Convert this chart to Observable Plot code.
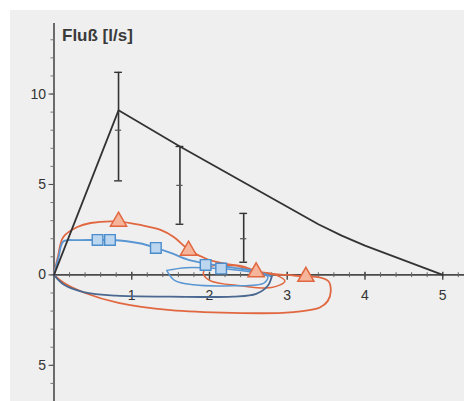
<!DOCTYPE html>
<html><head><meta charset="utf-8">
<script src="https://cdn.jsdelivr.net/npm/d3@7"></script>
<script src="https://cdn.jsdelivr.net/npm/@observablehq/plot@0.6"></script>
<style>
body{margin:0;background:#fff;font-family:"Liberation Sans",Arial,sans-serif;}
#wrap{position:relative;width:464px;height:401px;overflow:hidden;}
#bg{position:absolute;left:10px;top:10px;right:0;bottom:0;background:#efefef;}
#chart{position:absolute;left:0;top:0;}
</style></head>
<body><div id="wrap"><div id="bg"></div><div id="chart"></div></div>
<script>
const titleText = ["Fluß [l/s]"];
const yMajor = [10, 5, 0, -5];
const yMinor = d3.range(-7, 14, 1);
const xMajor = [1, 2, 3, 4, 5];
const xMinor = d3.range(0.2, 5.3, 0.2).map(v => +v.toFixed(1));

// predicted curve (black)
const predX = [0, 0.83, 1.62, 3.4, 3.7, 4.0, 5.0];
const predY = [0, 9.1, 7.1, 2.8, 2.17, 1.62, 0];
// error bars
const barX = [0.83, 1.62, 2.44];
const barLo = [5.2, 2.8, 0.7];
const barHi = [11.2, 7.1, 3.4];
const barMid = [8.0, 4.95, 2.0];

// red loop (measured 1)
const redX = [0,0.05,0.12,0.3,0.47,0.83,1.11,1.37,1.54,1.73,1.98,2.23,2.45,2.6,2.8,3.0,3.24,3.4,3.53,3.56,3.52,3.42,3.2,2.94,2.3,1.5,0.83,0.4,0.13,0];
const redY = [0,1.0,2.1,2.65,2.87,2.95,2.76,2.49,2.1,1.4,0.85,0.6,0.45,0.2,0.05,0.0,-0.1,-0.12,-0.35,-0.9,-1.45,-1.8,-2.0,-2.1,-2.1,-1.95,-1.55,-1.0,-0.45,0];
const red2X = [2.35,2.0,1.92,2.0,2.4,2.8,2.97,2.85,2.6,2.35];
const red2Y = [0.5,0.45,0.1,-0.3,-0.6,-0.7,-0.35,0.0,0.2,0.5];
const triX = [0.83, 1.73, 2.6, 3.24];
const triY = [2.95, 1.35, 0.15, -0.1];

// blue loop (measured 2)
const blueUpX = [0,0.06,0.12,0.3,0.56,0.75,1.1,1.31,1.5,1.73,2.0,2.3,2.6,2.8];
const blueUpY = [0,1.0,1.85,1.92,1.93,1.93,1.75,1.5,1.22,0.83,0.6,0.4,0.2,-0.1];
const blueLoX = [0,0.13,0.38,0.8,1.5,2.3,2.6,2.75,2.8];
const blueLoY = [0,-0.55,-0.95,-1.15,-1.2,-1.2,-1.05,-0.6,-0.1];
const blue2X = [1.45,1.55,1.8,2.3,2.7,2.75,2.55,2.1,1.7,1.45];
const blue2Y = [0.25,-0.3,-0.55,-0.6,-0.45,-0.1,0.15,0.35,0.4,0.25];
const sqX = [0.56, 0.72, 1.31, 1.95, 2.15];
const sqY = [1.93, 1.93, 1.49, 0.55, 0.35];

const zip = (xs, ys) => xs.map((x, i) => ({x, y: ys[i]}));
const bars = barX.map((x, i) => ({x, lo: barLo[i], hi: barHi[i], mid: barMid[i]}));
const redC = "#e0673f", blueC = "#5a96d2", axisC = "#4a4a4a";

const chart = Plot.plot({
  width: 464, height: 401,
  marginLeft: 53.5, marginRight: 0, marginTop: 23, marginBottom: 0,
  style: {background: "transparent", fontFamily: "Liberation Sans, Arial, sans-serif"},
  x: {domain: [0, 5.28], axis: null},
  y: {domain: [-7.0, 13.9], axis: null},
  marks: [
    Plot.ruleX([0], {stroke: axisC, strokeWidth: 1.6}),
    Plot.ruleY([0], {stroke: axisC, strokeWidth: 1.6}),
    Plot.axisY({ticks: yMinor, tickSize: 3, tickFormat: () => "", stroke: "#777"}),
    Plot.axisY({ticks: yMajor, tickSize: 5, tickPadding: 3, tickFormat: d => String(Math.abs(d)),
      fontSize: 14, fill: "#333", stroke: axisC}),
    Plot.ruleX(xMinor, {x: d => d, y1: 0.12, y2: -0.15, stroke: "#666", strokeWidth: 1}),
    Plot.ruleX(xMajor, {x: d => d, y1: 0.15, y2: -0.3, stroke: axisC, strokeWidth: 1.4}),
    Plot.text(xMajor, {x: d => d, y: 0, dy: 21, text: d => String(d), fontSize: 14, fill: "#333"}),
    Plot.text(titleText, {frameAnchor: "top-left", dx: 8, dy: 5, text: d => d, fontSize: 17,
      fontWeight: "bold", fill: "#3a3a3a", textAnchor: "start", lineAnchor: "top"}),
    Plot.line(zip(redX, redY), {x: "x", y: "y", stroke: redC, strokeWidth: 1.8, curve: "catmull-rom"}),
    Plot.line(zip(red2X, red2Y), {x: "x", y: "y", stroke: redC, strokeWidth: 1.5, curve: "catmull-rom"}),
    Plot.line(zip(blueUpX, blueUpY), {x: "x", y: "y", stroke: blueC, strokeWidth: 1.8, curve: "catmull-rom"}),
    Plot.line(zip(blueLoX, blueLoY), {x: "x", y: "y", stroke: "#4a6890", strokeWidth: 1.8, curve: "catmull-rom"}),
    Plot.line(zip(blue2X, blue2Y), {x: "x", y: "y", stroke: blueC, strokeWidth: 1.5, curve: "catmull-rom"}),
    Plot.line(zip(predX, predY), {x: "x", y: "y", stroke: "#333", strokeWidth: 1.8}),
    Plot.ruleX(bars, {x: "x", y1: "lo", y2: "hi", stroke: "#333", strokeWidth: 1.6}),
    Plot.ruleY(bars, {y: "hi", x1: d => d.x - 0.05, x2: d => d.x + 0.05, stroke: "#333", strokeWidth: 1.4}),
    Plot.ruleY(bars, {y: "lo", x1: d => d.x - 0.05, x2: d => d.x + 0.05, stroke: "#333", strokeWidth: 1.4}),
    Plot.ruleY(bars, {y: "mid", x1: d => d.x - 0.04, x2: d => d.x + 0.04, stroke: "#555", strokeWidth: 1.2}),
    Plot.dot(zip(sqX, sqY), {x: "x", y: "y", symbol: "square", r: 6, stroke: "#4a8ccc", fill: "#bcd6f0", strokeWidth: 1.4}),
    Plot.dot(zip(triX, triY), {x: "x", y: "y", symbol: "triangle", r: 6, stroke: redC, fill: "#f6b49a", strokeWidth: 1.5})
  ]
});
document.getElementById("chart").appendChild(chart);
</script></body></html>
